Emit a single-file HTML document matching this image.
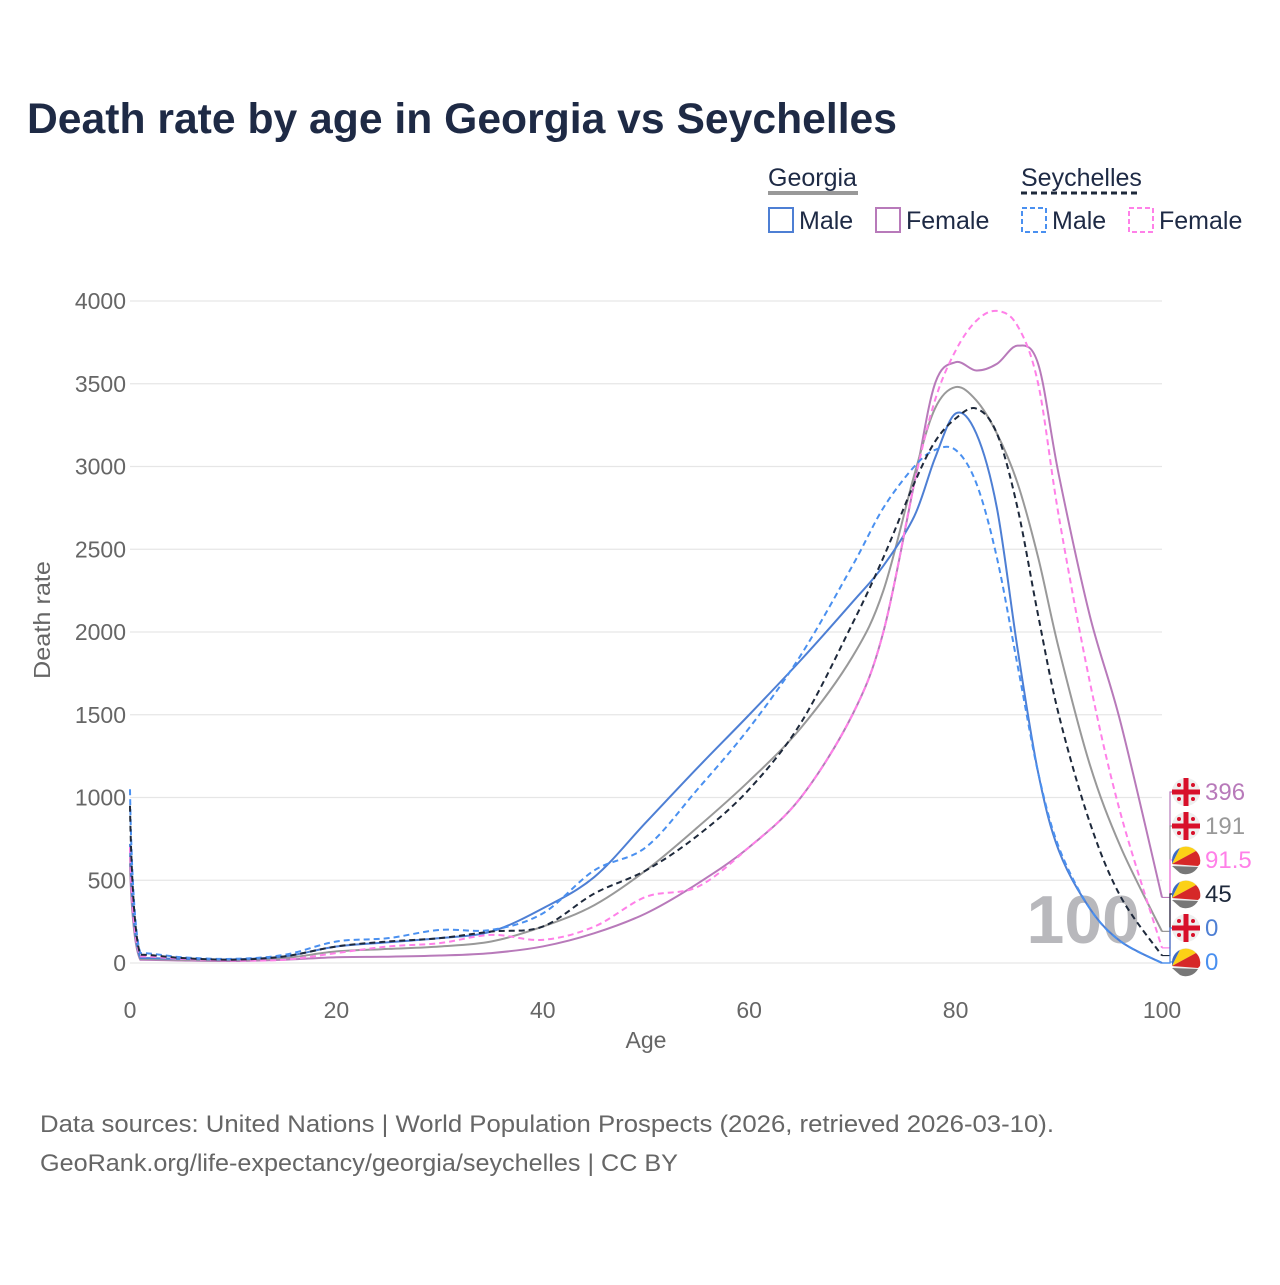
<!DOCTYPE html>
<html><head><meta charset="utf-8"><style>
body{margin:0;background:#fff;font-family:"Liberation Sans",sans-serif;}
svg text{font-family:"Liberation Sans",sans-serif;}
</style></head><body>
<svg id="chart" width="1280" height="1280" viewBox="0 0 1280 1280" xmlns="http://www.w3.org/2000/svg">
<text x="27" y="133" font-size="43" font-weight="bold" fill="#1e2a45" textLength="870" lengthAdjust="spacingAndGlyphs">Death rate by age in Georgia vs Seychelles</text>
<g font-size="25" fill="#1e2a45">
  <text x="768" y="186" fill="#1e2a45">Georgia</text>
  <line x1="768" y1="193" x2="858" y2="193" stroke="#999" stroke-width="4"/>
  <text x="1021" y="186" fill="#1e2a45">Seychelles</text>
  <line x1="1021" y1="193" x2="1140" y2="193" stroke="#1e293b" stroke-width="3" stroke-dasharray="6,4"/>
  <g><rect x="769" y="208" width="24" height="24" fill="none" stroke="#4e7fd4" stroke-width="2"/><text x="799" y="229">Male</text></g>
  <g><rect x="876" y="208" width="24" height="24" fill="none" stroke="#b87aba" stroke-width="2"/><text x="906" y="229">Female</text></g>
  <g><rect x="1022" y="208" width="24" height="24" fill="none" stroke="#4a90f0" stroke-width="2" stroke-dasharray="5,3"/><text x="1052" y="229">Male</text></g>
  <g><rect x="1129" y="208" width="24" height="24" fill="none" stroke="#ff80e8" stroke-width="2" stroke-dasharray="5,3"/><text x="1159" y="229">Female</text></g>
</g>
<g id="grid"></g>
<g id="axes"></g>
<text x="1140" y="943" font-size="68" font-weight="bold" fill="#b8b8bc" text-anchor="end">100</text>
<g id="series"></g>
<g id="endlabels"></g>
<text transform="translate(50,620) rotate(-90)" font-size="23" fill="#666" text-anchor="middle" textLength="118" lengthAdjust="spacingAndGlyphs">Death rate</text>
<text x="646" y="1048" font-size="23" fill="#666" text-anchor="middle">Age</text>
<text x="40" y="1132" font-size="24" fill="#666" textLength="1014" lengthAdjust="spacingAndGlyphs">Data sources: United Nations | World Population Prospects (2026, retrieved 2026-03-10).</text>
<text x="40" y="1171" font-size="24" fill="#666" textLength="638" lengthAdjust="spacingAndGlyphs">GeoRank.org/life-expectancy/georgia/seychelles | CC BY</text>
</svg>
<script>
const ages = [0,1,5,10,15,20,25,30,35,40,45,50,55,60,65,70,73,76,78,80,82,84,86,88,90,93,96,100];
const georgiaMale   = [720,30,25,22,40,100,125,150,190,330,520,850,1180,1500,1830,2180,2400,2700,3050,3320,3200,2750,1900,1150,680,330,130,0];
const georgiaFemale = [600,20,15,12,20,35,38,45,60,100,180,300,480,700,1000,1500,2000,2900,3500,3630,3580,3620,3730,3620,2950,2100,1450,396];
const georgiaTotal  = [650,25,20,18,30,70,85,100,130,220,350,560,820,1100,1420,1850,2250,2950,3350,3480,3400,3200,2900,2450,1900,1200,700,191];
const seyTotal      = [950,50,30,20,40,100,130,150,190,220,420,560,770,1050,1450,2050,2450,2900,3150,3290,3350,3200,2750,2100,1500,850,400,45];
const seyMale       = [1050,60,35,25,50,130,150,200,200,300,560,700,1050,1420,1860,2400,2750,3000,3100,3100,2900,2450,1800,1150,700,330,130,0];
const seyFemale     = [700,40,25,15,20,60,100,120,170,140,220,400,460,700,1000,1500,2000,2900,3400,3700,3880,3940,3850,3500,2700,1700,900,91.5];
const yTicks = [0,500,1000,1500,2000,2500,3000,3500,4000];
const xTicks = [0,20,40,60,80,100];
const endLabels = ["396","191","91.5","45","0","0"];

const NS="http://www.w3.org/2000/svg";
const X0=130,X1=1162,Y0=963,Y1=301;
const xs=a=>X0+(a/100)*(X1-X0);
const ys=v=>Y0-(v/4000)*(Y0-Y1);
function mk(tag,attrs,parent){const e=document.createElementNS(NS,tag);for(const k in attrs)e.setAttribute(k,attrs[k]);parent.appendChild(e);return e;}
const grid=document.getElementById('grid'),axes=document.getElementById('axes');
yTicks.forEach(t=>{
  const l=mk('line',{x1:X0,x2:X1,y1:ys(t),y2:ys(t),stroke:'#e6e6e6','stroke-width':1.2},grid);
  
  
  const tx=mk('text',{x:126,y:ys(t)+8,'font-size':23,fill:'#666','text-anchor':'end'},axes);
  tx.textContent=t;
  
  
});
xTicks.forEach(t=>{
  const tx=mk('text',{x:xs(t),y:1018,'font-size':23,fill:'#666','text-anchor':'middle'},axes);
  tx.textContent=t;
  
  
});
function pathD(vals){
  const p=ages.map((a,i)=>[xs(a),ys(vals[i])]);
  let d=`M${p[0][0]},${p[0][1]}`;
  for(let i=0;i<p.length-1;i++){
    const p0=p[Math.max(0,i-1)],p1=p[i],p2=p[i+1],p3=p[Math.min(p.length-1,i+2)];
    let c1=[p1[0]+(p2[0]-p0[0])/6,p1[1]+(p2[1]-p0[1])/6];
    let c2=[p2[0]-(p3[0]-p1[0])/6,p2[1]-(p3[1]-p1[1])/6];
    if(i===0){c1=p1;} if(i===1){c1=[p1[0]+(p2[0]-p1[0])/3,p1[1]];}
    d+=` C${c1[0]},${c1[1]} ${c2[0]},${c2[1]} ${p2[0]},${p2[1]}`;
  }
  return d;
}
const series=document.getElementById('series');
const defs=[
 [georgiaFemale,'#b87aba',null,'line-georgia-female'],
 [georgiaTotal,'#999999',null,'line-georgia-total'],
 [georgiaMale,'#4e7fd4',null,'line-georgia-male'],
 [seyFemale,'#ff80e8','6,4','line-seychelles-female'],
 [seyMale,'#4a90f0','6,4','line-seychelles-male'],
 [seyTotal,'#1e293b','6,4','line-seychelles-total']];
defs.forEach(s=>{
  const a={d:pathD(s[0]),fill:'none',stroke:s[1],'stroke-width':2};
  if(s[2])a['stroke-dasharray']=s[2];
  const p=mk('path',a,series);
  
  
});
const el=document.getElementById('endlabels');
const lab=[
 [georgiaFemale,'#b87aba','G'],[georgiaTotal,'#999','G'],[seyFemale,'#ff80e8','S'],
 [seyTotal,'#1e293b','S'],[georgiaMale,'#4e7fd4','G'],[seyMale,'#4a90f0','S']];
lab.forEach((L,i)=>{
  const ly=792+i*34;
  const vy=ys(L[0][L[0].length-1]);
  const c=mk('path',{d:`M${X1},${vy} L1170,${vy} L1170,${ly} L1172,${ly}`,fill:'none',stroke:L[1],'stroke-width':1.2},el);
  
  
  const g=mk('g',{},el);
  
  
  const cx=1186;
  mk('circle',{cx:cx,cy:ly,r:14,fill:'#eee'},g);
  if(L[2]==='G'){
    mk('rect',{x:cx-2.5,y:ly-14,width:5,height:28,fill:'#d8102a'},g);
    mk('rect',{x:cx-14,y:ly-2.5,width:28,height:5,fill:'#d8102a'},g);
    [[-7,-7],[7,-7],[-7,7],[7,7]].forEach(o=>mk('circle',{cx:cx+o[0],cy:ly+o[1],r:2,fill:'#d8102a'},g));
  }else{
    mk('path',{d:`M${cx-14},${ly+4} L${cx-14},${ly} A14 14 0 0 1 ${cx-6},${ly-12} Z`,fill:'#3d6bc4'},g);
    mk('path',{d:`M${cx-14},${ly+4} L${cx-6},${ly-12} A14 14 0 0 1 ${cx+10},${ly-9} Z`,fill:'#fcd116'},g);
    mk('path',{d:`M${cx-14},${ly+4} L${cx+10},${ly-9} A14 14 0 0 1 ${cx+14},${ly+4} L${cx+12},${ly+6} Z`,fill:'#d62828'},g);
    mk('path',{d:`M${cx-14},${ly+6} L${cx+12},${ly+7} A14 14 0 0 1 ${cx-6},${ly+13} Z`,fill:'#777'},g);
  }
  const t=mk('text',{x:1205,y:ly+8,'font-size':24,fill:L[1]},el);
  t.textContent=endLabels[i];
  
  
});
</script>
</body></html>
